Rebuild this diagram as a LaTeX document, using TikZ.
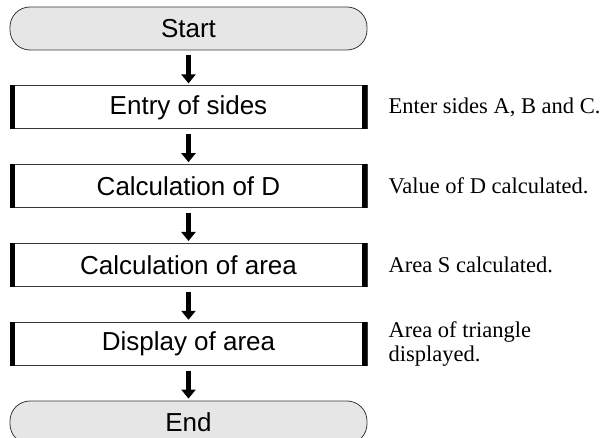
\documentclass[tikz,border=0pt]{standalone}
\usepackage{fontspec}
\setmainfont{Liberation Serif}
\setsansfont{Liberation Sans}
\usetikzlibrary{
    arrows.meta,
    positioning
}
\definecolor{TermFill}{RGB}{230,230,230}
\definecolor{EdgeGray}{RGB}{55,55,55}
\tikzset{
  term/.style  = {draw=EdgeGray, fill=TermFill, rounded corners=20pt,
                  line width=0.8pt, minimum width=357pt, minimum height=43pt,
                  font=\sffamily\fontsize{26}{30}\selectfont},
  proc/.style  = {draw=EdgeGray, line width=0.8pt, minimum width=357pt,
                  minimum height=43pt, font=\sffamily\fontsize{26}{30}\selectfont},
  note/.style  = {inner sep=0pt, align=left, font=\fontsize{22.5}{24}\selectfont},
  flow/.style  = {-{Triangle[width=14pt,length=9pt]}, line width=4.5pt,
                  shorten <=5pt, shorten >=2pt}
}

\begin{document}
\begin{tikzpicture}[x=1pt, y=1pt, node distance=35pt]
\useasboundingbox (0,0) rectangle (605,-438);
\node[term] (start) at (188.5,-28.5) {Start};
\node[proc, below=of start] (entry) {Entry of sides};
\node[proc, below=of entry] (calcd) {Calculation of D};
\node[proc, below=of calcd] (calcs) {Calculation of area};
\node[proc, below=of calcs] (disp) {Display of area};
\node[term, below=of disp] (end) {End};
% thick side bars of the process boxes
\foreach \n in {entry,calcd,calcs,disp} {
  \fill (\n.north west) rectangle ([xshift=5pt]\n.south west);
  \fill (\n.north east) rectangle ([xshift=-5pt]\n.south east);
}
\foreach \a/\b in {start/entry,entry/calcd,calcd/calcs,calcs/disp,disp/end}
  \draw[flow] (\a) -- (\b);
\node[note, right=21pt of entry] (nentry) {Enter sides A, B and C.};
\node[note, right=21pt of calcd] (ncalcd) {Value of D calculated.};
\node[note, right=21pt of calcs] (ncalcs) {Area S calculated.};
\node[note, right=21pt of disp] (ndisp) {Area of triangle\\displayed.};
\end{tikzpicture}
\end{document}
